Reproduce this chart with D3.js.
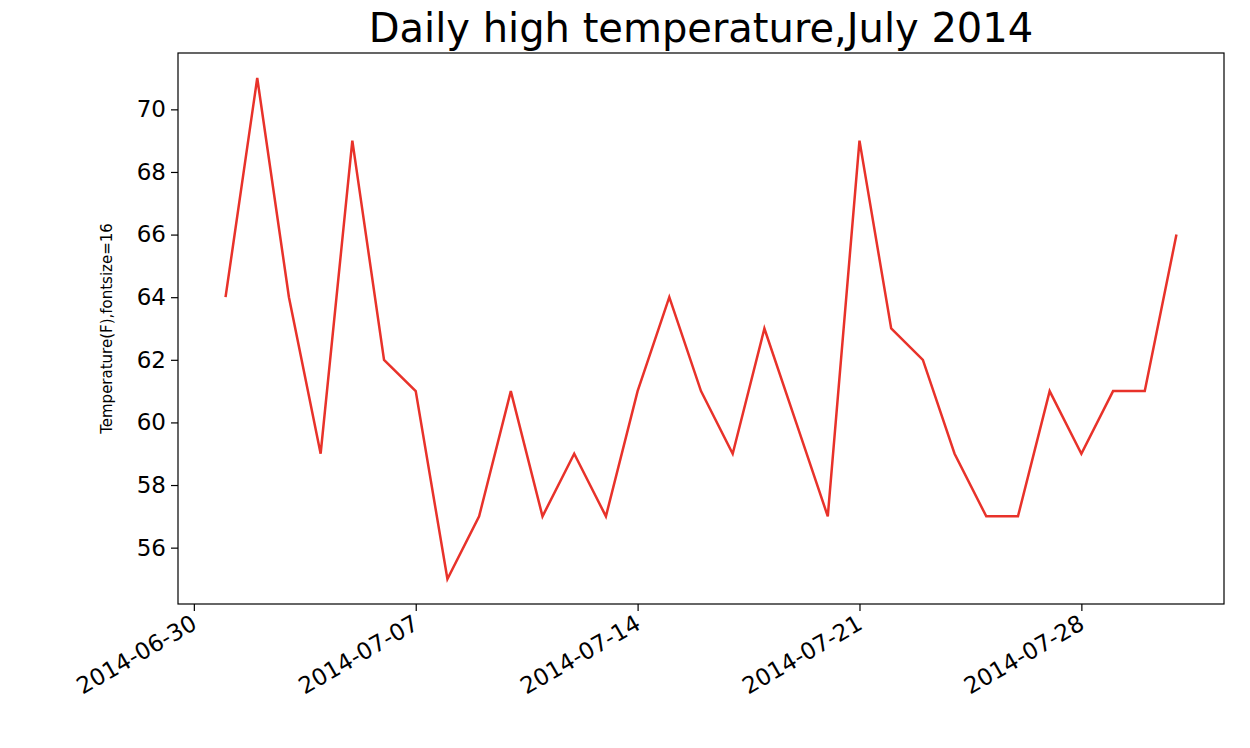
<!DOCTYPE html>
<html><head><meta charset="utf-8">
<script src="https://cdn.jsdelivr.net/npm/d3@7"></script>
<style>body{margin:0;background:#fff;font-family:"DejaVu Sans",sans-serif;}</style>
</head><body>
<div id="chart"></div>
<script>
// daily highs for July 2014
var days = d3.range(1, 32).map(function(d){ return new Date(2014, 6, d); });
var highs = [64,71,64,59,69,62,61,55,57,61,57,59,57,61,64,61,59,63,60,57,69,63,62,59,57,57,61,59,61,61,66];
var tickDates = ["2014-06-30","2014-07-07","2014-07-14","2014-07-21","2014-07-28"];
var yTicks = [56,58,60,62,64,66,68,70];

var parse = d3.timeParse("%Y-%m-%d");
var svg = d3.select("#chart").append("svg").attr("width",1250).attr("height",748)
    .attr("font-family","DejaVu Sans");

var pL = 178, pR = 1224, pT = 53, pB = 604;
var x = d3.scaleTime()
    .domain([new Date(2014,5,29,12), new Date(2014,7,1,12)])
    .range([pL, pR]);
var y = d3.scaleLinear().domain([54.2, 71.8]).range([pB, pT]);

var xa = svg.append("g").attr("transform","translate(0,"+pB+")")
    .call(d3.axisBottom(x).tickValues(tickDates.map(parse)).tickFormat(d3.timeFormat("%Y-%m-%d")).tickSize(7).tickSizeOuter(0));
xa.attr("font-family","DejaVu Sans");
xa.selectAll("text").attr("font-size",23).attr("fill","#000")
    .attr("text-anchor","end").attr("dy",null).attr("y",0)
    .attr("transform","translate(4,24) rotate(-30)");

var ya = svg.append("g").attr("transform","translate("+pL+",0)")
    .call(d3.axisLeft(y).tickValues(yTicks).tickSize(7).tickSizeOuter(0));
ya.attr("font-family","DejaVu Sans");
ya.selectAll("text").attr("font-size",23).attr("fill","#000").attr("x",-12);
svg.selectAll(".domain").remove();
svg.selectAll(".tick line").attr("stroke","#000").attr("stroke-width",1.2);

svg.append("rect").attr("x",pL).attr("y",pT).attr("width",pR-pL).attr("height",pB-pT)
    .attr("fill","none").attr("stroke","#000").attr("stroke-width",1.2);

svg.append("path").datum(highs)
    .attr("fill","none").attr("stroke","#e8322a").attr("stroke-width",2.5)
    .attr("d", d3.line().x(function(d,i){return x(days[i]);}).y(function(d){return y(d);}));

svg.append("text").attr("x",(pL+pR)/2).attr("y",42).attr("text-anchor","middle")
    .attr("font-size",40).text("Daily high temperature,July 2014");

svg.append("text").attr("transform","translate(112,"+((pT+pB)/2)+") rotate(-90)")
    .attr("text-anchor","middle").attr("font-size",15).text("Temperature(F),fontsize=16");
</script>
</body></html>
